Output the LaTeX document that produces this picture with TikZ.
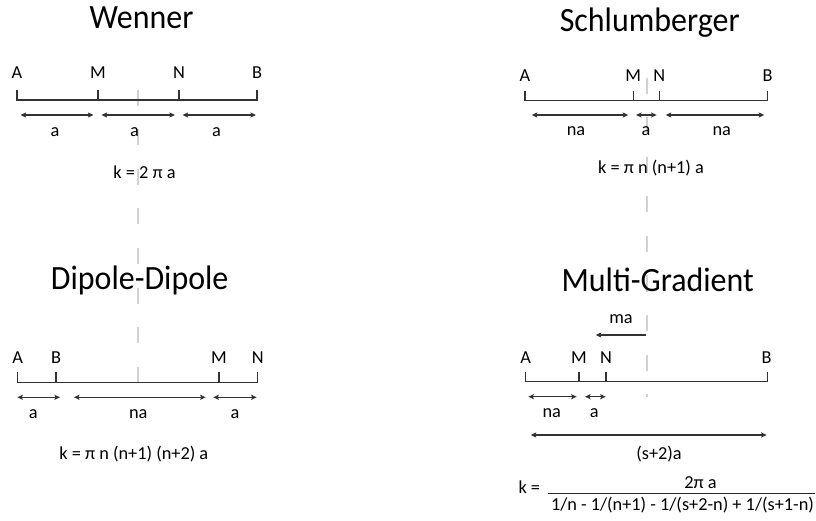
\documentclass[tikz,border=0pt]{standalone}
\usepackage{fontspec}
\setmainfont{Carlito}
\newfontfamily\titlefont[FakeStretch=0.94]{Carlito}
\usetikzlibrary{arrows.meta}
\begin{document}
\begin{tikzpicture}[x=1pt,y=-1pt,
  title/.style={font=\titlefont\fontsize{34}{38}\selectfont, anchor=base, inner sep=0pt},
  lbl/.style={font=\fontsize{18.3}{21}\selectfont, anchor=base, inner sep=0pt},
  baseln/.style={line width=1.3pt, draw=black!80},
  dim/.style={line width=1.1pt, draw=black!80, {Stealth[length=5.5pt,width=5pt,inset=1pt]}-{Stealth[length=5.5pt,width=5pt,inset=1pt]}},
  onearrow/.style={line width=1.1pt, draw=black!80, {Stealth[length=5.5pt,width=5pt,inset=1pt]}-},
  guide/.style={line width=1.5pt, draw=black!18, dash pattern=on 16pt off 23.5pt}]
\useasboundingbox (0,0) rectangle (816,521);
% guide lines
\coordinate (gl1) at (138,90);
\coordinate (gl2) at (138,405);
\coordinate (gr1) at (647,78);
\coordinate (gr2) at (647,397);
\draw[guide] (gl1) -- (gl2);
\draw[guide] (gr1) -- (gr2);

% ---------- Wenner ----------
\node[title] (tW) at (141.5,29) {Wenner};
\coordinate (wA) at (17,100);
\coordinate (wM) at (98,100);
\coordinate (wN) at (179,100);
\coordinate (wB) at (257,100);
\draw[baseln] ([yshift=9.5pt]wA) -- (wA) -- (wB) -- ([yshift=9.5pt]wB);
\draw[baseln] (wM) -- ([yshift=9.5pt]wM);
\draw[baseln] (wN) -- ([yshift=9.5pt]wN);
\node[lbl] (wlA) at (17,79) {A};
\node[lbl] (wlM) at (98,79) {M};
\node[lbl] (wlN) at (179,79) {N};
\node[lbl] (wlB) at (257,79) {B};
\coordinate (wd1) at (20.5,115); \coordinate (wd2) at (93.5,115);
\coordinate (wd3) at (101.5,115); \coordinate (wd4) at (175,115);
\coordinate (wd5) at (182.5,115); \coordinate (wd6) at (256,115);
\draw[dim] (wd1) -- (wd2);
\draw[dim] (wd3) -- (wd4);
\draw[dim] (wd5) -- (wd6);
\node[lbl] (wa1) at (55,137) {a};
\node[lbl] (wa2) at (134.5,137) {a};
\node[lbl] (wa3) at (216.5,137) {a};
\node[lbl] (wk) at (144.5,179) {k = 2 π a};

% ---------- Schlumberger ----------
\node[title] (tS) at (649.7,31.5) {Schlumberger};
\coordinate (sA) at (525,100.5);
\coordinate (sM) at (633.3,100.5);
\coordinate (sN) at (659.3,100.5);
\coordinate (sB) at (767.7,100.5);
\draw[baseln] ([yshift=9.5pt]sA) -- (sA) -- (sB) -- ([yshift=9.5pt]sB);
\draw[baseln] (sM) -- ([yshift=9.5pt]sM);
\draw[baseln] (sN) -- ([yshift=9.5pt]sN);
\node[lbl] (slA) at (525,81.5) {A};
\node[lbl] (slM) at (633.3,81.5) {M};
\node[lbl] (slN) at (659.3,81.5) {N};
\node[lbl] (slB) at (767.7,81.5) {B};
\coordinate (sd1) at (531.7,115); \coordinate (sd2) at (628.3,115);
\coordinate (sd3) at (636,115); \coordinate (sd4) at (656.7,115);
\coordinate (sd5) at (665.7,115); \coordinate (sd6) at (764.3,115);
\draw[dim] (sd1) -- (sd2);
\draw[dim] (sd3) -- (sd4);
\draw[dim] (sd5) -- (sd6);
\node[lbl] (sa1) at (576,136) {na};
\node[lbl] (sa2) at (646,136) {a};
\node[lbl] (sa3) at (721.7,136) {na};
\node[lbl] (sk) at (651,173.5) {k = π n (n+1) a};

% ---------- Dipole-Dipole ----------
\node[title] (tD) at (139.7,290) {Dipole-Dipole};
\coordinate (dA) at (17.7,382.3);
\coordinate (dB) at (56,382.3);
\coordinate (dM) at (219,382.3);
\coordinate (dN) at (257.7,382.3);
\draw[baseln] ([yshift=10.5pt]dA) -- (dA) -- (dN) -- ([yshift=10.5pt]dN);
\draw[baseln] (dB) -- ([yshift=10.5pt]dB);
\draw[baseln] (dM) -- ([yshift=10.5pt]dM);
\node[lbl] (dlA) at (17.7,363.3) {A};
\node[lbl] (dlB) at (56,363.3) {B};
\node[lbl] (dlM) at (219,363.3) {M};
\node[lbl] (dlN) at (257.7,363.3) {N};
\coordinate (dd1) at (17.3,397.3); \coordinate (dd2) at (60,397.3);
\coordinate (dd3) at (74,397.3); \coordinate (dd4) at (205.7,397.3);
\coordinate (dd5) at (213.3,397.3); \coordinate (dd6) at (256.7,397.3);
\draw[dim] (dd1) -- (dd2);
\draw[dim] (dd3) -- (dd4);
\draw[dim] (dd5) -- (dd6);
\node[lbl] (da1) at (33.3,418) {a};
\node[lbl] (da2) at (138.3,418) {na};
\node[lbl] (da3) at (235,418) {a};
\node[lbl] (dk) at (133.8,459) {k = π n (n+1) (n+2) a};

% ---------- Multi-Gradient ----------
\node[title] (tG) at (657.7,291) {Multi-Gradient};
\node[lbl] (gma) at (621,323) {ma};
\coordinate (gm1) at (646,335); \coordinate (gm2) at (595.7,335);
\draw[onearrow] (gm2) -- (gm1);
\coordinate (gA) at (525.7,381.7);
\coordinate (gM) at (579,381.7);
\coordinate (gN) at (606,381.7);
\coordinate (gB) at (767.7,381.7);
\draw[baseln] ([yshift=10pt]gA) -- (gA) -- (gB) -- ([yshift=10pt]gB);
\draw[baseln] (gM) -- ([yshift=10pt]gM);
\draw[baseln] (gN) -- ([yshift=10pt]gN);
\node[lbl] (glA) at (525.7,363.3) {A};
\node[lbl] (glM) at (579,363.3) {M};
\node[lbl] (glN) at (606,363.3) {N};
\node[lbl] (glB) at (766.7,363.3) {B};
\coordinate (gd1) at (528.3,396.7); \coordinate (gd2) at (576.7,396.7);
\coordinate (gd3) at (585,396.7); \coordinate (gd4) at (605.7,396.7);
\draw[dim] (gd1) -- (gd2);
\draw[dim] (gd3) -- (gd4);
\node[lbl] (ga1) at (551.7,417) {na};
\node[lbl] (ga2) at (594.3,417) {a};
\coordinate (gs1) at (530.7,435); \coordinate (gs2) at (766.7,435);
\draw[dim] (gs1) -- (gs2);
\node[lbl] (gs) at (659,459) {(s+2)a};
\node[lbl, anchor=base west] (gk) at (518.3,493) {k =};
\node[lbl] (gnum) at (700.5,488) {2π a};
\node[lbl] (gden) at (682.5,510) {1/n - 1/(n+1) - 1/(s+2-n) + 1/(s+1-n)};
\coordinate (gf1) at (548.3,493.3); \coordinate (gf2) at (815,493.3);
\draw[line width=1pt, draw=black!85] (gf1) -- (gf2);
\end{tikzpicture}
\end{document}
